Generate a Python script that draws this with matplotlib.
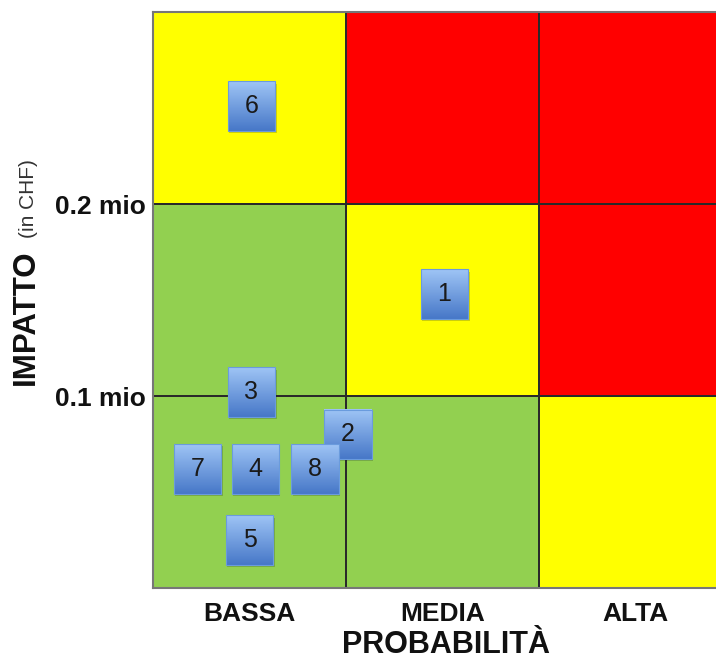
import numpy as np
import matplotlib
matplotlib.use("Agg")
import matplotlib.pyplot as plt
from matplotlib.colors import ListedColormap, LinearSegmentedColormap
from matplotlib.patches import Rectangle

# livelli di rischio per cella (riga 0 = impatto basso)
livelli = [[0, 0, 1],
           [0, 1, 2],
           [1, 2, 2]]
colori_livelli = ['#92D050', '#FFFF00', '#FF0000']

prob_labels = ['BASSA', 'MEDIA', 'ALTA']
impatto_labels = ['0.1 mio', '0.2 mio']

# rischi: numero, probabilita' (x), impatto (y), in unita' di cella
rischi = ['6', '1', '3', '2', '7', '4', '8', '5']
rischi_x = [0.51, 1.51, 0.51, 1.01, 0.23, 0.53, 0.84, 0.50]
rischi_y = [2.51, 1.53, 1.02, 0.80, 0.62, 0.62, 0.62, 0.25]

plt.rcParams['font.family'] = ['Liberation Sans', 'DejaVu Sans']

fig = plt.figure(figsize=(7.16, 6.61), dpi=100)
ax = fig.add_axes([153 / 716, 73 / 661, 579 / 716, 576 / 661])

cmap = ListedColormap(colori_livelli)
ax.pcolormesh(np.arange(4), np.arange(4), np.array(livelli), cmap=cmap,
              vmin=-0.5, vmax=2.5, edgecolors='#2a2a2a', linewidth=1.1)

grad = LinearSegmentedColormap.from_list('box', ['#4778C8', '#9EC4F5'])
w, h = 0.245, 0.258
for i, (n, x, y) in enumerate(zip(rischi, rischi_x, rischi_y)):
    z = 5 + 2 * i
    ax.add_patch(Rectangle((x - w / 2 + 0.008, y - h / 2 - 0.012), w, h,
                           facecolor='black', alpha=0.18, edgecolor='none', zorder=z - 0.5))
    ax.imshow(np.linspace(0, 1, 50).reshape(-1, 1), cmap=grad, origin='lower',
              extent=[x - w / 2, x + w / 2, y - h / 2, y + h / 2],
              aspect='auto', zorder=z)
    ax.add_patch(Rectangle((x - w / 2, y - h / 2), w, h, facecolor='none',
                           edgecolor='#6A9BDD', linewidth=0.8, zorder=z + 0.5))
    ax.text(x, y, n, ha='center', va='center', fontsize=18, color='#1a1a1a', zorder=z + 1)

ax.set_xlim(0, 3)
ax.set_ylim(0, 3)
ax.set_aspect('auto')

ax.set_xticks([0.5, 1.5, 2.5])
ax.set_xticklabels(prob_labels, fontsize=19, fontweight='bold', color='#111111')
ax.set_yticks([1, 2])
ax.set_yticklabels(impatto_labels, fontsize=19, fontweight='bold', color='#111111')
ax.tick_params(length=0, pad=5)
ax.tick_params(axis='x', pad=10)
for s in ax.spines.values():
    s.set_color('#777777')
    s.set_linewidth(1.5)

fig.text(342 / 716, 1 - 653 / 661, 'PROBABILITÀ', ha='left', va='baseline',
         fontsize=22, fontweight='bold', color='#111111')
fig.text(26 / 716, 1 - 317 / 661, 'IMPATTO', rotation=90, ha='center', va='center',
         fontsize=22.5, fontweight='bold', color='#111111')
fig.text(29 / 716, 1 - 199 / 661, '(in CHF)', rotation=90, ha='center', va='center',
         fontsize=15, color='#333333')

fig.savefig('out.png', dpi=100)
